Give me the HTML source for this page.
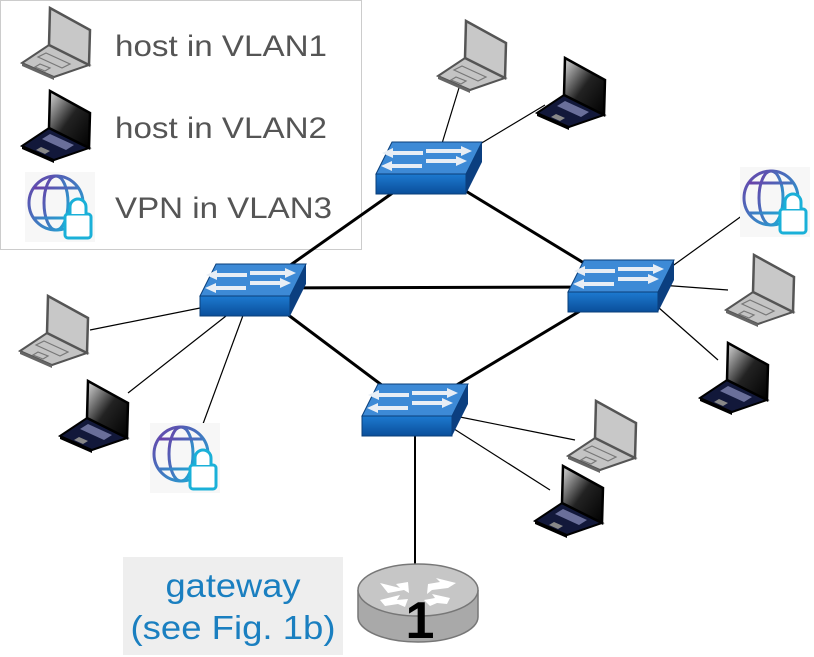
<!DOCTYPE html>
<html><head><meta charset="utf-8"><style>
body{margin:0;background:#fff;width:814px;height:657px;overflow:hidden}
svg{display:block}
text{font-family:"Liberation Sans",sans-serif}
</style></head><body>
<svg width="814" height="657" viewBox="0 0 814 657" xmlns="http://www.w3.org/2000/svg">
<defs>
<linearGradient id="scr" x1="0" y1="0" x2="1" y2="1"><stop offset="0" stop-color="#ddd"/><stop offset="0.5" stop-color="#222"/><stop offset="1" stop-color="#000"/></linearGradient>
<g id="lg">
 <polygon points="27,40 67,60 32,72 0,58" fill="#c4c4c4" stroke="#555" stroke-width="2"/>
 <polygon points="0,58 32,72 32,75 0,61" fill="#666"/>
 <polygon points="28,3 68,25 67,60 27,40" fill="#c8c8c8" stroke="#555" stroke-width="2.5"/>
 <polygon points="24,48 48,59 40,63 16,52" fill="none" stroke="#777" stroke-width="1.2"/>
 <polygon points="18,59 28,63 23,66 13,62" fill="none" stroke="#777" stroke-width="1.2"/>
</g>
<g id="ld">
 <polygon points="27,40 67,60 32,72 0,58" fill="#12183a" stroke="#000" stroke-width="2"/>
 <polygon points="0,58 32,72 32,75 0,61" fill="#000"/>
 <polygon points="28,3 68,25 67,60 27,40" fill="url(#scr)" stroke="#000" stroke-width="2.5"/>
 <polygon points="28,46 52,57 44,62 20,51" fill="#6a6f9a"/>
 <polygon points="19,59 28,63 23,66 14,62" fill="#888"/>
</g>
<linearGradient id="gg" x1="0" y1="0" x2="1" y2="1"><stop offset="0" stop-color="#6a3fa8"/><stop offset="1" stop-color="#1ab0d8"/></linearGradient>
<g id="vpn">
 <rect x="0" y="0" width="70" height="70" fill="#f7f7f7"/>
 <g fill="none" stroke="url(#gg)" stroke-width="3">
  <circle cx="31" cy="31" r="27"/>
  <ellipse cx="31" cy="31" rx="12" ry="27"/>
  <line x1="31" y1="4" x2="31" y2="58"/>
  <line x1="4" y1="31" x2="58" y2="31"/>
  <path d="M9 16 H53 M9 46 H53"/>
 </g>
 <rect x="40" y="42" width="26" height="24" rx="3" fill="#fff" stroke="#1ab0d8" stroke-width="3"/>
 <path d="M45 42 V35 a8 8 0 0 1 16 0 V42" fill="#fff" stroke="#1ab0d8" stroke-width="3"/>
</g>
<linearGradient id="sf" x1="0" y1="0" x2="0" y2="1"><stop offset="0" stop-color="#1d7ad0"/><stop offset="1" stop-color="#0a4e9a"/></linearGradient>
<g id="sw">
 <polygon points="16,0 106,0 90,32 0,32" fill="#3d8ad6" stroke="#0a3f7a" stroke-width="1"/>
 <polygon points="0,32 90,32 90,52 0,52" fill="url(#sf)" stroke="#0a3f7a" stroke-width="1"/>
 <polygon points="90,32 106,0 106,20 90,52" fill="#0b3f80"/>
 <g fill="#e8eef5">
  <polygon points="50,7 85,7 85,4 96,9 85,14 85,11 50,11"/>
  <polygon points="50,17 80,17 80,14 91,19 80,24 80,21 50,21"/>
  <polygon points="55,13 25,13 25,16 14,11 25,6 25,9 55,9" transform="translate(-8,0)"/>
  <polygon points="50,24 20,24 20,27 9,22 20,17 20,20 50,20" transform="translate(-4,2)"/>
 </g>
</g>
</defs>

<rect x="0.5" y="0.5" width="361" height="249" fill="#fff" stroke="#ccc"/>
<use href="#lg" x="22" y="5"/>
<text x="115" y="56" font-size="30" fill="#555" textLength="212" lengthAdjust="spacingAndGlyphs">host in VLAN1</text>
<use href="#ld" x="22" y="88"/>
<text x="115" y="138" font-size="30" fill="#555" textLength="212" lengthAdjust="spacingAndGlyphs">host in VLAN2</text>
<use href="#vpn" x="25" y="172"/>
<text x="115" y="218" font-size="30" fill="#555" textLength="217" lengthAdjust="spacingAndGlyphs">VPN in VLAN3</text>

<g stroke="#000" stroke-width="1.2">
 <line x1="440" y1="150" x2="462" y2="78"/>
 <line x1="470" y1="150" x2="545" y2="105"/>
 <line x1="240" y1="300" x2="90" y2="330"/>
 <line x1="240" y1="305" x2="128" y2="393"/>
 <line x1="245" y1="310" x2="200" y2="432"/>
 <line x1="660" y1="275" x2="750" y2="210"/>
 <line x1="660" y1="285" x2="728" y2="290"/>
 <line x1="650" y1="300" x2="718" y2="360"/>
 <line x1="450" y1="415" x2="575" y2="440"/>
 <line x1="440" y1="420" x2="550" y2="490"/>
</g>
<g stroke="#000" stroke-width="3">
 <line x1="428" y1="168" x2="255" y2="290"/>
 <line x1="428" y1="168" x2="620" y2="285"/>
 <line x1="255" y1="288" x2="620" y2="287"/>
 <line x1="255" y1="290" x2="415" y2="410"/>
 <line x1="620" y1="287" x2="415" y2="410"/>
 <line x1="415" y1="410" x2="415" y2="580" stroke-width="2"/>
</g>

<use href="#lg" x="438" y="18"/>
<use href="#ld" x="537" y="55"/>
<use href="#lg" x="20" y="293"/>
<use href="#ld" x="60" y="378"/>
<use href="#vpn" x="150" y="423"/>
<use href="#vpn" x="740" y="167"/>
<use href="#lg" x="726" y="252"/>
<use href="#ld" x="700" y="340"/>
<use href="#lg" x="568" y="398"/>
<use href="#ld" x="535" y="463"/>

<use href="#sw" x="376" y="142"/>
<use href="#sw" x="200" y="264"/>
<use href="#sw" x="568" y="260"/>
<use href="#sw" x="362" y="384"/>

<rect x="123" y="557" width="220" height="98" fill="#eeeeee"/>
<text x="233" y="597" font-size="33" fill="#1a7fc0" text-anchor="middle" textLength="135" lengthAdjust="spacingAndGlyphs">gateway</text>
<text x="233" y="639" font-size="33" fill="#1a7fc0" text-anchor="middle" textLength="205" lengthAdjust="spacingAndGlyphs">(see Fig. 1b)</text>

<path d="M358 590 V617 A60 25 0 0 0 478 617 V590" fill="#a9a9a9" stroke="#777" stroke-width="1.5"/>
<ellipse cx="418" cy="590" rx="60" ry="26" fill="#c6c6c6" stroke="#777" stroke-width="1.5"/>
<g fill="#fff">
 <polygon points="380,583 400,588 396,584 408,582 409,593 404,590 388,593"/>
 <polygon points="456,583 436,578 440,582 428,584 427,594 432,590 448,588"/>
 <polygon points="380,600 400,595 397,600 408,599 405,607 398,604 385,606"/>
 <polygon points="450,598 432,594 435,598 424,600 430,606 437,603 447,604"/>
</g>
<text x="420" y="638" font-size="52" font-weight="bold" fill="#000" text-anchor="middle">1</text>
</svg>
</body></html>
